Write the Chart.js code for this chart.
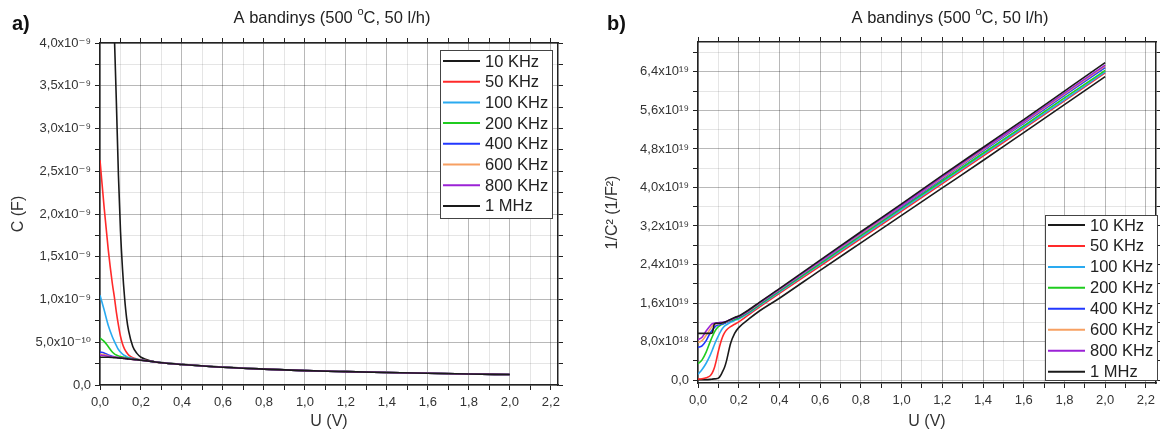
<!DOCTYPE html>
<html>
<head>
<meta charset="utf-8">
<script src="https://cdn.jsdelivr.net/npm/chart.js@4.4.1/dist/chart.umd.min.js"></script>
<style>
  html, body { margin: 0; padding: 0; background: #fff; }
  #marco { position: relative; width: 1160px; height: 435px; }
  canvas { position: absolute; top: 0; }
  #grafica1 { left: 0; }
  #grafica2 { left: 580px; }
</style>
</head>
<body>
<div id="marco">
  <canvas id="grafica1" width="580" height="435"></canvas>
  <canvas id="grafica2" width="580" height="435"></canvas>
</div>
<script>
// Tensión U (V), común a todas las curvas
const tensiones = [0, 0.02, 0.04, 0.06, 0.07, 0.08, 0.09, 0.1, 0.11, 0.12, 0.13, 0.14, 0.16, 0.18, 0.2,
                   0.25, 0.3, 0.4, 0.6, 0.8, 1.0, 1.2, 1.4, 1.6, 1.8, 2.0];
const etiquetas = ["10 KHz", "50 KHz", "100 KHz", "200 KHz", "400 KHz", "600 KHz", "800 KHz", "1 MHz"];
const colores = ["#1a1a1a", "#ff2a2a", "#2aaaf0", "#1fcc1f", "#2238ff", "#f7a062", "#9b22d6", "#1a1a1a"];

// a) C (en unidades de 1e-10 F)
const c10k  = [80, 70, 60, 48, 41, 33, 24.5, 18, 13.5, 10.2, 7.8, 6.3, 4.5, 3.7, 3.25,   2.8, 2.62, 2.41, 2.09, 1.86, 1.68, 1.56, 1.46, 1.37, 1.29, 1.22];
const c50k  = [26.3, 20.8, 15.9, 11.9, 10.3, 8.5, 7.0, 5.7, 4.8, 4.2, 3.8, 3.5, 3.2, 3.05, 2.95,   2.77, 2.60, 2.40, 2.08, 1.86, 1.68, 1.56, 1.46, 1.37, 1.29, 1.22];
const c100k = [10.5, 8.8, 7.0, 5.65, 5.1, 4.6, 4.15, 3.85, 3.6, 3.45, 3.32, 3.22, 3.1, 3.0, 2.93,   2.76, 2.60, 2.40, 2.08, 1.86, 1.68, 1.56, 1.46, 1.37, 1.29, 1.22];
const c200k = [5.5, 5.1, 4.5, 3.85, 3.65, 3.5, 3.4, 3.33, 3.27, 3.22, 3.17, 3.12, 3.04, 2.97, 2.9,   2.76, 2.60, 2.40, 2.08, 1.86, 1.68, 1.56, 1.46, 1.37, 1.29, 1.22];
const c400k = [3.85, 3.75, 3.5, 3.35, 3.3, 3.25, 3.2, 3.18, 3.15, 3.12, 3.1, 3.07, 3.02, 2.96, 2.9,   2.76, 2.60, 2.40, 2.08, 1.86, 1.68, 1.56, 1.46, 1.37, 1.29, 1.22];
const c600k = [3.6, 3.55, 3.4, 3.3, 3.27, 3.24, 3.2, 3.17, 3.14, 3.11, 3.08, 3.05, 3.0, 2.95, 2.9,   2.76, 2.60, 2.40, 2.08, 1.86, 1.68, 1.56, 1.46, 1.37, 1.29, 1.22];
const c800k = [3.5, 3.45, 3.35, 3.28, 3.25, 3.22, 3.19, 3.16, 3.13, 3.1, 3.07, 3.04, 3.0, 2.95, 2.9,   2.76, 2.60, 2.40, 2.08, 1.86, 1.68, 1.56, 1.46, 1.37, 1.29, 1.22];
const c1m   = [3.25, 3.25, 3.24, 3.22, 3.2, 3.18, 3.16, 3.14, 3.12, 3.1, 3.07, 3.04, 3.0, 2.95, 2.9,   2.76, 2.60, 2.40, 2.08, 1.86, 1.68, 1.56, 1.46, 1.37, 1.29, 1.22];

// b) 1/C^2 (en unidades de 1e18 1/F^2)
const inv10k  = [0.1, 0.1, 0.1, 0.15, 0.2, 0.25, 0.3, 0.4, 0.9, 1.7, 2.6, 4.0, 7.6, 9.7, 10.9,   12.7, 14.3, 17.0, 22.8, 28.5, 34.2, 39.9, 45.6, 51.4, 57.2, 63.0];
const inv50k  = [0.2, 0.3, 0.5, 0.9, 1.5, 2.5, 4.1, 6.0, 7.6, 8.9, 9.8, 10.4, 11.1, 11.6, 12.1,   13.6, 15.1, 18.0, 23.7, 29.4, 35.1, 40.8, 46.5, 52.2, 58.0, 63.8];
const inv100k = [1.2, 2.2, 3.5, 5.2, 6.2, 7.3, 8.3, 9.2, 10.0, 10.7, 11.2, 11.5, 12.0, 12.4, 12.7,   13.9, 15.4, 18.3, 24.0, 29.7, 35.4, 41.1, 46.8, 52.5, 58.2, 64.0];
const inv200k = [3.4, 4.2, 5.8, 8.0, 9.0, 9.9, 10.6, 11.1, 11.4, 11.6, 11.8, 12.0, 12.3, 12.6, 12.9,   14.1, 15.6, 18.5, 24.2, 30.0, 35.7, 41.4, 47.1, 52.8, 58.6, 64.3];
const inv400k = [6.8, 7.1, 8.2, 9.8, 10.4, 10.9, 11.3, 11.5, 11.6, 11.7, 11.8, 12.0, 12.4, 12.8, 13.1,   14.3, 15.8, 18.7, 24.5, 30.3, 36.0, 41.8, 47.6, 53.3, 59.1, 64.9];
const inv600k = [7.8, 8.2, 9.3, 10.6, 11.2, 11.6, 11.7, 11.7, 11.8, 11.9, 12.0, 12.1, 12.5, 12.9, 13.2,   14.4, 15.9, 18.8, 24.6, 30.4, 36.2, 42.0, 47.8, 53.5, 59.4, 65.2];
const inv800k = [8.4, 8.9, 10.2, 11.3, 11.7, 11.8, 11.9, 11.9, 12.0, 12.0, 12.1, 12.2, 12.6, 12.9, 13.2,   14.5, 16.0, 18.9, 24.7, 30.6, 36.3, 42.2, 48.0, 53.7, 59.6, 65.4];
const inv1m   = [9.7, 9.7, 9.7, 9.7, 9.8, 11.6, 11.8, 11.8, 11.8, 11.9, 12.0, 12.2, 12.6, 13.0, 13.3,   14.6, 16.1, 19.0, 24.9, 30.8, 36.6, 42.5, 48.3, 54.1, 60.0, 65.9];

const FUENTE = "'Liberation Sans', 'DejaVu Sans', Arial, sans-serif";
Chart.defaults.font.family = FUENTE;
Chart.defaults.color = "#333";

const coma = (v) => v.toFixed(1).replace(".", ",");
const esMultiplo = (v, paso) => Math.abs(v / paso - Math.round(v / paso)) < 1e-6;
// marcas en todos los múltiplos del paso dentro del rango del eje
const marcas = (paso) => (s) => {
  const lista = [];
  for (let k = Math.ceil(s.min / paso - 1e-9); k * paso <= s.max + 1e-9; k++) {
    lista.push({ value: +(k * paso).toFixed(6) });
  }
  s.ticks = lista;
};

// Título, etiqueta del panel y leyenda dibujados a mano
const pluginTextos = {
  id: "textos",
  afterDraw(chart, args, o) {
    const ctx = chart.ctx;
    ctx.save();
    // letra del panel
    ctx.fillStyle = "#111";
    ctx.font = "bold 20px " + FUENTE;
    ctx.textBaseline = "middle";
    ctx.textAlign = "left";
    ctx.fillText(o.panel, o.panelX, 24);
    // título con "o" en superíndice
    const t1 = "A bandinys (500 ", t2 = "o", t3 = "C, 50 l/h)";
    ctx.font = "16.5px " + FUENTE;
    const w1 = ctx.measureText(t1).width, w3 = ctx.measureText(t3).width;
    ctx.font = "11px " + FUENTE;
    const w2 = ctx.measureText(t2).width;
    let x = o.tituloX - (w1 + w2 + w3) / 2;
    ctx.fillStyle = "#222";
    ctx.font = "16.5px " + FUENTE;
    ctx.fillText(t1, x, 18); x += w1;
    ctx.font = "11px " + FUENTE;
    ctx.fillText(t2, x, 12); x += w2;
    ctx.font = "16.5px " + FUENTE;
    ctx.fillText(t3, x, 18);
    // leyenda
    const L = o.leyenda;
    ctx.fillStyle = "#fff";
    ctx.fillRect(L.x, L.y, L.w, L.h);
    ctx.strokeStyle = "#444";
    ctx.lineWidth = 1;
    ctx.strokeRect(L.x + 0.5, L.y + 0.5, L.w, L.h);
    ctx.font = "16.5px " + FUENTE;
    chart.data.datasets.forEach((ds, i) => {
      const y = L.y + L.primera + i * L.fila;
      ctx.strokeStyle = ds.borderColor;
      ctx.lineWidth = 2;
      ctx.beginPath();
      ctx.moveTo(L.x + 3, y);
      ctx.lineTo(L.x + 40, y);
      ctx.stroke();
      ctx.fillStyle = "#222";
      ctx.fillText(ds.label, L.x + 45, y + 1);
    });
    ctx.restore();
  }
};

function crearGrafica(id, series, conf) {
  const datasets = series.map((serie, i) => ({
    label: etiquetas[i],
    data: serie.map((v, j) => ({ x: tensiones[j], y: v })),
    borderColor: colores[i],
    borderWidth: 1.6,
    pointRadius: 0,
    cubicInterpolationMode: "monotone",
    order: series.length - 1 - i
  }));
  const rejilla = (paso) => ({
    color: (c) => (c.tick && esMultiplo(c.tick.value, paso) ? "rgba(0,0,0,0.28)" : "rgba(0,0,0,0.10)"),
    tickColor: "#222",
    tickLength: 5,
    lineWidth: 1
  });
  const borde = { color: "#222", width: 1.5 };
  new Chart(document.getElementById(id), {
    type: "line",
    data: { datasets },
    plugins: [pluginTextos],
    options: {
      responsive: false,
      animation: false,
      devicePixelRatio: 1,
      layout: { padding: { top: conf.arriba, right: conf.derecha, left: 0, bottom: 0 } },
      plugins: {
        legend: { display: false },
        tooltip: { enabled: false },
        textos: conf.textos
      },
      scales: {
        x: {
          type: "linear", min: 0, max: conf.xMax,
          ticks: {
            padding: 5, maxRotation: 0, autoSkip: false,
            font: { size: 13 },
            callback: (v) => (esMultiplo(v, 0.2) ? coma(v) : "")
          },
          afterBuildTicks: marcas(0.1),
          afterFit: (s) => { s.height = conf.abajo; },
          grid: rejilla(0.2), border: borde,
          title: { display: true, text: "U (V)", font: { size: 16 }, padding: { top: 0, bottom: 4 } }
        },
        y: {
          type: "linear", min: conf.yMin, max: conf.yMax,
          ticks: {
            padding: 4, autoSkip: false,
            font: { size: 13 },
            callback: (v) => (esMultiplo(v, conf.yPaso) ? conf.formato(v) : "")
          },
          afterBuildTicks: marcas(conf.yPaso / 2),
          afterFit: (s) => { s.width = conf.izquierda; },
          grid: rejilla(conf.yPaso), border: borde,
          title: { display: true, text: conf.tituloY, font: { size: 16 }, padding: { top: conf.padTituloY, bottom: 0 } }
        },
        x2: {
          type: "linear", position: "top", min: 0, max: conf.xMax,
          ticks: { display: false },
          afterBuildTicks: marcas(0.1),
          afterFit: (s) => { s.height = 0; },
          grid: { drawOnChartArea: false, tickLength: 5, tickColor: "#222" },
          border: borde
        },
        y2: {
          type: "linear", position: "right", min: conf.yMin, max: conf.yMax,
          ticks: { display: false },
          afterBuildTicks: marcas(conf.yPaso / 2),
          afterFit: (s) => { s.width = 0; },
          grid: { drawOnChartArea: false, tickLength: 5, tickColor: "#222" },
          border: borde
        }
      }
    }
  });
}

crearGrafica("grafica1", [c10k, c50k, c100k, c200k, c400k, c600k, c800k, c1m], {
  xMax: 2.235, yMin: 0, yMax: 40, yPaso: 5,
  izquierda: 100, derecha: 22, arriba: 43, abajo: 50, padTituloY: 9,
  tituloY: "C (F)",
  formato: (v) => (v === 0 ? "0,0" : v < 10 ? coma(v) + "x10\u207B\u00B9\u2070" : coma(v / 10) + "x10\u207B\u2079"),
  textos: {
    panel: "a)", panelX: 12, tituloX: 332,
    leyenda: { x: 440, y: 50, w: 112, h: 168, primera: 11, fila: 20.7 }
  }
});

crearGrafica("grafica2", [inv10k, inv50k, inv100k, inv200k, inv400k, inv600k, inv800k, inv1m], {
  xMax: 2.25, yMin: -0.6, yMax: 70.2, yPaso: 8,
  izquierda: 118, derecha: 2, arriba: 42, abajo: 52, padTituloY: 23,
  tituloY: "1/C\u00B2 (1/F\u00B2)",
  formato: (v) => (v === 0 ? "0,0" : v < 10 ? coma(v) + "x10\u00B9\u2078" : coma(v / 10) + "x10\u00B9\u2079"),
  textos: {
    panel: "b)", panelX: 27, tituloX: 370,
    leyenda: { x: 465, y: 215, w: 112, h: 165, primera: 10, fila: 20.95 }
  }
});
</script>
</body>
</html>
